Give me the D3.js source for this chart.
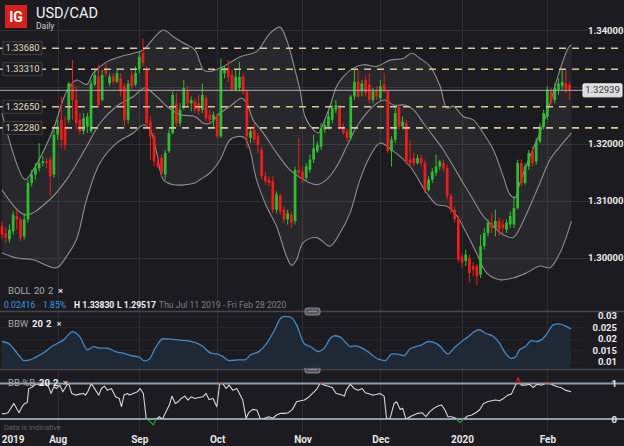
<!DOCTYPE html>
<html><head><meta charset="utf-8">
<script src="https://cdn.jsdelivr.net/npm/d3@7"></script>
<style>
html,body{margin:0;padding:0;background:#1c1c20;}
svg{display:block;font-family:Roboto,"Liberation Sans",Arial,sans-serif;}
</style></head><body>
<svg id="c" width="624" height="446"></svg>
<script>
// ---------- DATA ----------
const openP = [1.3055,1.3043,1.3032,1.3046,1.3073,1.3067,1.3037,1.3067,1.3131,1.3146,
1.3157,1.3166,1.3169,1.3172,1.3146,1.3216,1.3242,1.3230,1.3242,1.3304,
1.3277,1.3242,1.3222,1.3230,1.3222,1.3304,1.3318,1.3277,1.3333,1.3306,
1.3318,1.3309,1.3315,1.3301,1.3242,1.3321,1.3304,1.3330,1.3359,1.3330,
1.3239,1.3213,1.3169,1.3175,1.3146,1.3187,1.3219,1.3271,1.3236,1.3263,
1.3292,1.3271,1.3274,1.3271,1.3260,1.3280,1.3251,1.3242,1.3248,1.3213,
1.3324,1.3333,1.3321,1.3295,1.3298,1.3318,1.3292,1.3210,1.3225,1.3213,
1.3189,1.3143,1.3137,1.3134,1.3084,1.3108,1.3084,1.3067,1.3075,1.3064,
1.3154,1.3151,1.3140,1.3154,1.3172,1.3187,1.3195,1.3225,1.3230,1.3242,
1.3260,1.3263,1.3230,1.3222,1.3210,1.3283,1.3309,1.3292,1.3312,1.3304,
1.3277,1.3295,1.3280,1.3304,1.3292,1.3187,1.3207,1.3265,1.3230,1.3236,
1.3172,1.3175,1.3166,1.3175,1.3166,1.3119,1.3137,1.3149,1.3160,1.3166,
1.3157,1.3108,1.3084,1.3067,1.3002,1.2994,1.2999,1.2985,1.2985,1.2970,
1.3020,1.3043,1.3061,1.3052,1.3064,1.3058,1.3049,1.3058,1.3058,1.3087,
1.3166,1.3131,1.3160,1.3187,1.3169,1.3204,1.3230,1.3248,1.3292,1.3277,
1.3295,1.3301,1.3306,1.3304];
const closeP = [1.3040,1.3035,1.3049,1.3075,1.3067,1.3035,1.3067,1.3131,1.3146,1.3157,
1.3166,1.3169,1.3166,1.3143,1.3216,1.3230,1.3207,1.3198,1.3306,1.3277,
1.3236,1.3222,1.3245,1.3248,1.3306,1.3321,1.3268,1.3321,1.3324,1.3318,
1.3309,1.3324,1.3292,1.3242,1.3306,1.3301,1.3324,1.3353,1.3342,1.3236,
1.3213,1.3169,1.3160,1.3149,1.3184,1.3219,1.3286,1.3236,1.3260,1.3298,
1.3271,1.3277,1.3260,1.3257,1.3286,1.3245,1.3242,1.3251,1.3213,1.3330,
1.3333,1.3318,1.3295,1.3318,1.3318,1.3292,1.3213,1.3222,1.3207,1.3198,
1.3143,1.3134,1.3131,1.3084,1.3111,1.3081,1.3067,1.3078,1.3061,1.3154,
1.3149,1.3137,1.3160,1.3172,1.3192,1.3198,1.3227,1.3233,1.3248,1.3263,
1.3268,1.3230,1.3219,1.3210,1.3283,1.3309,1.3283,1.3306,1.3289,1.3277,
1.3292,1.3283,1.3301,1.3292,1.3187,1.3207,1.3254,1.3230,1.3239,1.3169,
1.3166,1.3166,1.3175,1.3166,1.3119,1.3137,1.3151,1.3160,1.3169,1.3157,
1.3108,1.3084,1.3067,1.2996,1.2991,1.3005,1.2973,1.2979,1.2967,1.3020,
1.3043,1.3061,1.3052,1.3064,1.3049,1.3052,1.3061,1.3073,1.3087,1.3166,
1.3131,1.3160,1.3184,1.3166,1.3204,1.3230,1.3254,1.3295,1.3274,1.3298,
1.3306,1.3309,1.3295,1.3294];
const highP = [1.3064,1.3052,1.3058,1.3081,1.3084,1.3070,1.3078,1.3137,1.3154,1.3166,
1.3201,1.3178,1.3175,1.3178,1.3225,1.3242,1.3283,1.3248,1.3309,1.3347,
1.3301,1.3254,1.3254,1.3254,1.3312,1.3330,1.3339,1.3330,1.3342,1.3324,
1.3324,1.3333,1.3324,1.3306,1.3312,1.3330,1.3336,1.3362,1.3385,1.3336,
1.3248,1.3219,1.3178,1.3181,1.3189,1.3225,1.3292,1.3289,1.3271,1.3312,
1.3301,1.3283,1.3280,1.3286,1.3306,1.3286,1.3260,1.3257,1.3254,1.3350,
1.3336,1.3347,1.3330,1.3330,1.3344,1.3324,1.3295,1.3230,1.3236,1.3219,
1.3195,1.3151,1.3143,1.3143,1.3116,1.3113,1.3090,1.3084,1.3081,1.3160,
1.3210,1.3160,1.3166,1.3181,1.3216,1.3204,1.3236,1.3242,1.3260,1.3268,
1.3277,1.3268,1.3236,1.3227,1.3286,1.3330,1.3330,1.3312,1.3318,1.3324,
1.3298,1.3301,1.3312,1.3324,1.3295,1.3213,1.3268,1.3268,1.3248,1.3242,
1.3207,1.3184,1.3181,1.3181,1.3172,1.3143,1.3157,1.3181,1.3172,1.3172,
1.3163,1.3113,1.3090,1.3073,1.3008,1.3014,1.3005,1.2991,1.2988,1.3040,
1.3052,1.3067,1.3078,1.3084,1.3070,1.3067,1.3067,1.3081,1.3108,1.3172,
1.3172,1.3166,1.3189,1.3195,1.3210,1.3236,1.3260,1.3301,1.3298,1.3306,
1.3315,1.3330,1.3330,1.3309];
const lowP = [1.3032,1.3026,1.3026,1.3040,1.3049,1.3029,1.3032,1.3061,1.3125,1.3137,
1.3151,1.3160,1.3157,1.3108,1.3140,1.3207,1.3192,1.3189,1.3236,1.3242,
1.3225,1.3216,1.3216,1.3219,1.3219,1.3301,1.3263,1.3274,1.3318,1.3301,
1.3304,1.3306,1.3283,1.3230,1.3236,1.3295,1.3301,1.3324,1.3336,1.3230,
1.3172,1.3160,1.3157,1.3143,1.3137,1.3184,1.3216,1.3230,1.3230,1.3260,
1.3265,1.3257,1.3254,1.3251,1.3254,1.3239,1.3236,1.3230,1.3210,1.3210,
1.3315,1.3309,1.3292,1.3292,1.3292,1.3286,1.3192,1.3201,1.3201,1.3184,
1.3137,1.3128,1.3125,1.3078,1.3078,1.3075,1.3061,1.3058,1.3052,1.3058,
1.3143,1.3131,1.3134,1.3149,1.3166,1.3184,1.3189,1.3219,1.3225,1.3236,
1.3254,1.3225,1.3216,1.3204,1.3207,1.3277,1.3280,1.3283,1.3283,1.3271,
1.3271,1.3277,1.3274,1.3289,1.3184,1.3160,1.3201,1.3225,1.3225,1.3163,
1.3160,1.3160,1.3163,1.3160,1.3113,1.3116,1.3131,1.3143,1.3154,1.3151,
1.3102,1.3078,1.3061,1.2991,1.2982,1.2985,1.2956,1.2967,1.2952,1.2964,
1.3014,1.3037,1.3043,1.3037,1.3037,1.3043,1.3043,1.3052,1.3052,1.3084,
1.3125,1.3128,1.3154,1.3160,1.3163,1.3201,1.3225,1.3242,1.3268,1.3271,
1.3286,1.3295,1.3289,1.3277];

// Bollinger bands (sampled along the candle index)
const upIdx = [0,6.2,8.4,13.8,17.4,20.1,22.8,24.6,28.2,31.8,35.4,38.1,40.8,43.5,46.2,48.9,52,54.3,56.1,59.7,64.2,68.6,72.2,74.9,76.7,78.5,80.3,81.7,83.9,85.3,86.6,88.4,90.2,92,94.7,97.4,101,104.6,108.2,110.4,112.7,115.4,118.1,119.9,121.7,124.3,127,129.7,132.4,135.1,136.9,138.3,139.6,142.3,145,147.7,150.4,152.6,153.5];
const upVal = [1.3254,1.3137,1.3154,1.3225,1.3292,1.3312,1.3304,1.3324,1.3344,1.3353,1.3359,1.3365,1.3385,1.3400,1.3388,1.3377,1.3365,1.3330,1.3327,1.3336,1.3353,1.3362,1.3394,1.3405,1.3383,1.3342,1.3295,1.3248,1.3225,1.3219,1.3236,1.3266,1.3301,1.3318,1.3333,1.3339,1.3336,1.3347,1.3350,1.3359,1.3350,1.3336,1.3301,1.3263,1.3266,1.3248,1.3242,1.3219,1.3190,1.3143,1.3111,1.3105,1.3131,1.3178,1.3219,1.3271,1.3330,1.3368,1.3374];
const midIdx = [0,6.2,12.9,17.4,22.8,26.4,30.9,35.4,38.5,41.7,44.4,48,52,54.3,56.1,58.8,61.5,64.6,66,67.7,70.4,74,77.6,81.2,84.8,87.5,90.2,92.9,95.6,98.3,101,103.2,105.5,108.6,110.9,113.6,116.3,118.9,121.7,124.3,127,129.7,132.4,135.1,137.8,139.6,142.3,145,147.7,150.4,153.5];
const midVal = [1.3119,1.3075,1.3102,1.3137,1.3195,1.3236,1.3266,1.3283,1.3298,1.3283,1.3266,1.3251,1.3248,1.3236,1.3236,1.3254,1.3266,1.3280,1.3271,1.3242,1.3219,1.3184,1.3154,1.3137,1.3128,1.3137,1.3160,1.3195,1.3230,1.3254,1.3271,1.3277,1.3268,1.3268,1.3260,1.3236,1.3213,1.3190,1.3160,1.3131,1.3102,1.3073,1.3055,1.3040,1.3035,1.3052,1.3090,1.3131,1.3172,1.3195,1.3219];
const loIdx = [0,4,8.4,14.7,17.4,20.1,22.8,26.4,30.9,35.4,38.1,39.9,41.7,43.5,46.2,52,53.4,56.1,58.8,61.5,64.2,65.5,66.8,68.6,71.3,74,76.7,78.1,79.4,81.2,84.8,88.4,91.1,93.8,96.5,99.2,101.9,105.5,110,114.5,117.2,119.9,122.6,125.2,127.9,130.6,134.2,137.8,141.4,145,147.7,150.4,153.5];
const loVal = [1.3008,1.2999,1.2996,1.2982,1.3002,1.3032,1.3102,1.3166,1.3201,1.3219,1.3233,1.3225,1.3184,1.3137,1.3128,1.3131,1.3137,1.3149,1.3172,1.3207,1.3213,1.3210,1.3190,1.3137,1.3090,1.3055,1.3002,1.2986,1.2996,1.3026,1.3035,1.3020,1.3043,1.3078,1.3137,1.3178,1.3201,1.3187,1.3160,1.3113,1.3093,1.3090,1.3073,1.3043,1.3008,1.2973,1.2961,1.2964,1.2973,1.2985,1.2982,1.3008,1.3064];

// Bollinger band width
const bbwIdx = [0,1.6,4.8,5.9,7.5,9.1,11.3,13.4,16.6,19.1,20.9,23.1,24.7,26.3,28.4,30.6,32.7,34.9,37.0,38.3,39.7,41.3,43.4,45.6,47.7,49.9,52,54.2,56.3,57.9,59.5,61.2,63.8,65.4,67,69.2,71.4,73.5,75.1,76.2,77.8,79.4,81.5,83.1,85.3,86.9,88.5,89.6,91.2,92.8,93.9,95.5,97.1,99.2,101.4,103.3,105.1,106.7,108.4,109.9,111.6,113.2,114.8,116.4,118,120.2,121.8,123.9,125.5,127.7,128.7,130.3,132.5,134.1,135.7,137.3,138.4,139.5,141.1,142.7,144.3,145.4,147,148.6,150.2,151.8,153.4];
const bbwVal = [0.0187,0.0180,0.0122,0.0104,0.0107,0.0119,0.0139,0.0165,0.0194,0.0230,
0.0209,0.0151,0.0165,0.0158,0.0158,0.0143,0.0136,0.0125,0.0119,0.0103,
0.0110,0.0158,0.0199,0.0197,0.0193,0.0191,0.0183,0.0165,0.0136,0.0133,
0.0122,0.0104,0.0107,0.0107,0.0129,0.0143,0.0180,0.0238,0.0288,0.0296,
0.0293,0.0259,0.0177,0.0165,0.0143,0.0158,0.0201,0.0212,0.0206,0.0180,
0.0165,0.0168,0.0158,0.0136,0.0110,0.0104,0.0133,0.0132,0.0126,0.0154,
0.0165,0.0172,0.0187,0.0183,0.0168,0.0133,0.0158,0.0187,0.0206,0.0233,
0.0238,0.0223,0.0209,0.0180,0.0136,0.0114,0.0119,0.0151,0.0165,0.0191,
0.0187,0.0194,0.0223,0.0259,0.0264,0.0255,0.0241];

// Bollinger %B
const pbIdx = [0,0.5,1.6,3.2,4.6,5.4,6.1,6.8,7.2,8.0,9.3,10.2,11.5,12.6,13.2,14.0,14.7,15.6,16.4,17.2,17.9,18.8,19.8,20.9,22.0,22.5,23.1,24.1,25.2,26.1,26.8,27.6,28.4,29.5,30.6,31.6,32.2,32.9,33.8,34.3,35.4,36.5,37.2,38.1,38.9,39.7,40.8,41.5,42.4,43.2,44.0,45.1,45.8,46.7,47.5,48.3,49.3,50.1,51.0,52.0,53.1,54.2,55.0,55.8,56.9,57.9,58.7,59.5,60.4,61.2,62.2,63.3,64.0,64.9,65.8,66.5,67.6,68.7,69.7,70.8,71.9,73.0,74.0,75.1,76.2,77.2,78.3,79.4,80.5,81.5,82.6,83.7,84.8,85.8,86.9,88.0,89.0,90.1,91.2,92.3,92.8,93.9,94.9,96.0,97.1,97.9,98.7,99.8,100.8,101.9,103.0,103.7,104.6,105.7,106.4,107.3,108.0,108.9,110.0,111.0,112.1,113.2,114.3,115.3,116.4,117.5,118.5,119.4,120.2,121.2,122.3,123.4,124.4,125.5,126.6,127.7,128.7,129.8,130.9,131.9,133.0,134.1,135.2,136.3,137.3,138.4,139.1,140.0,141.1,142.1,143.2,144.3,145.4,146.4,147.5,148.6,149.7,150.7,151.8,153.4];
const pbVal = [0.159,0.140,0.178,0.439,0.178,0.346,0.439,0.458,0.860,0.888,
1.000,0.953,1.000,0.907,0.720,0.907,0.860,0.953,0.766,0.907,
1.019,0.720,0.673,0.701,0.720,0.673,0.766,1.000,0.813,0.673,
0.860,0.925,0.813,0.860,0.626,0.579,0.346,0.673,0.720,0.673,
0.720,0.766,0.860,0.720,-0.009,-0.047,-0.168,-0.009,0.065,-0.009,
0.159,0.393,0.645,0.439,0.486,0.579,0.645,0.533,0.626,0.579,
0.607,0.626,0.720,0.551,0.579,0.346,1.019,1.000,0.860,0.953,
0.813,0.860,0.720,0.533,0.019,0.178,0.271,0.252,-0.009,0.019,
0.065,0.019,0.112,0.159,0.159,0.178,0.271,0.486,0.514,0.533,
0.607,0.720,0.832,1.019,0.953,0.925,0.888,0.720,0.692,0.645,
0.813,0.981,0.860,0.813,0.860,0.738,0.720,0.673,0.692,0.720,
0.645,-0.009,0.019,0.439,0.486,0.271,0.299,-0.009,0.065,0.112,
0.159,0.178,0.065,0.206,0.299,0.364,0.393,0.252,0.065,0.065,
0.019,-0.103,-0.009,0.084,0.112,0.178,0.252,0.439,0.486,0.514,
0.533,0.514,0.579,0.673,0.701,0.953,1.168,0.953,0.953,0.981,
0.888,0.981,0.953,1.000,1.019,0.953,0.907,0.888,0.813,0.766];

const levelVals = [1.3368, 1.3331, 1.3265, 1.3228];
const lastPrice = 1.32939;
const priceTicks = [1.30, 1.31, 1.32, 1.34];
const priceGrid = [1.30, 1.31, 1.32, 1.33, 1.34];
const bbwTicks = [0.01, 0.015, 0.02, 0.025, 0.03];
const pbTicks = [0, 1];
const xTickIdx = [15, 37, 58, 81, 102, 124, 147];
const xTickLbl = ["Aug", "Sep", "Oct", "Nov", "Dec", "2020", "Feb"];
const yearIdx = 3, yearLbl = "2019";

// ---------- DRAW ----------
const W = 624, H = 446;
const GREEN = "#2fbd32", RED = "#f01c1c";
const svg = d3.select("#c");
svg.append("rect").attr("width", W).attr("height", H).attr("fill", "#1c1c20");

const n = closeP.length;
const x = d3.scaleLinear().domain([0, n - 1]).range([2, 569.6]);
const y = d3.scaleLinear().domain([1.30, 1.34]).range([257.5, 30]);
const yW = d3.scaleLinear().domain([0.01, 0.03]).range([361.5, 315.5]);
const yB = d3.scaleLinear().domain([0, 1]).range([419, 383.5]);

const defs = svg.append("defs");
defs.append("clipPath").attr("id", "clipMain").append("rect").attr("x", 0).attr("y", 0).attr("width", 583).attr("height", 310);
defs.append("clipPath").attr("id", "clipW").append("rect").attr("x", 0).attr("y", 313).attr("width", 583).attr("height", 55);
defs.append("clipPath").attr("id", "pbMid").append("rect").attr("x", 0).attr("y", yB(1)).attr("width", 583).attr("height", yB(0) - yB(1));
defs.append("clipPath").attr("id", "pbHi").append("rect").attr("x", 0).attr("y", 370).attr("width", 583).attr("height", yB(1) - 370);
defs.append("clipPath").attr("id", "pbLo").append("rect").attr("x", 0).attr("y", yB(0)).attr("width", 583).attr("height", 432 - yB(0));

// vertical grid
const grid = svg.append("g").attr("stroke", "#2e2e33").attr("stroke-width", 1).attr("shape-rendering", "crispEdges");
grid.selectAll("line.v").data(xTickIdx).join("line")
  .attr("x1", d => Math.round(x(d)) + 0.5).attr("x2", d => Math.round(x(d)) + 0.5)
  .attr("y1", 0).attr("y2", 432);
// horizontal price grid
grid.selectAll("line.h").data(priceGrid).join("line")
  .attr("x1", 0).attr("x2", W).attr("y1", d => Math.round(y(d)) + 0.5).attr("y2", d => Math.round(y(d)) + 0.5);
// bbw grid
grid.selectAll("line.w").data(bbwTicks).join("line")
  .attr("x1", 0).attr("x2", 583).attr("y1", d => Math.round(yW(d)) + 0.5).attr("y2", d => Math.round(yW(d)) + 0.5)
  .attr("stroke", "#242428");

// ---------- main panel ----------
const main = svg.append("g").attr("clip-path", "url(#clipMain)");
const up = upIdx.map((d, k) => [d, upVal[k]]);
const mid = midIdx.map((d, k) => [d, midVal[k]]);
const lo = loIdx.map((d, k) => [d, loVal[k]]);
const bandLine = d3.line().x(d => x(d[0])).y(d => y(d[1])).curve(d3.curveCatmullRom.alpha(0.5));
const fillPath = bandLine(up) + bandLine(lo.slice().reverse()).replace(/^M/, "L") + "Z";
main.append("path").attr("d", fillPath).attr("fill", "rgba(255,255,255,0.055)");
[up, mid, lo].forEach(pts => {
  main.append("path").attr("d", bandLine(pts)).attr("fill", "none")
    .attr("stroke", "#8d8d90").attr("stroke-width", 1.1);
});

// candles
const idx = d3.range(n);
const isUp = i => closeP[i] >= openP[i];
main.append("g").selectAll("line").data(idx).join("line")
  .attr("x1", i => x(i)).attr("x2", i => x(i))
  .attr("y1", i => y(highP[i])).attr("y2", i => y(lowP[i]))
  .attr("stroke", i => isUp(i) ? GREEN : RED).attr("stroke-width", 1);
main.append("g").selectAll("rect").data(idx).join("rect")
  .attr("x", i => x(i) - 1.35).attr("width", 2.7)
  .attr("y", i => y(Math.max(openP[i], closeP[i])))
  .attr("height", i => Math.max(1, Math.abs(y(openP[i]) - y(closeP[i]))))
  .attr("fill", i => isUp(i) ? GREEN : RED);

// dashed levels
svg.append("g").selectAll("line").data(levelVals).join("line")
  .attr("x1", 0).attr("x2", W).attr("y1", d => y(d)).attr("y2", d => y(d))
  .attr("stroke", "#d8c59c").attr("stroke-width", 1.6).attr("stroke-dasharray", "7,6");
const lvl = svg.append("g").selectAll("g").data(levelVals).join("g")
  .attr("transform", d => `translate(3,${y(d) - 6.5})`);
lvl.append("rect").attr("width", 39).attr("height", 13).attr("fill", "#1e1e22").attr("stroke", "#48484c").attr("stroke-width", 0.8);
lvl.append("text").attr("x", 19.5).attr("y", 9.6).attr("text-anchor", "middle")
  .attr("fill", "#e4dbc2").style("font-size", "9.3px").text(d => d3.format(".5f")(d));

// current price line
svg.append("line").attr("x1", 0).attr("x2", 583).attr("y1", y(lastPrice)).attr("y2", y(lastPrice))
  .attr("stroke", "#a9a9ad").attr("stroke-width", 1);

// price axis
const yAxis = d3.axisRight(y).tickValues(priceTicks).tickFormat(d3.format(".5f")).tickSize(0).tickPadding(0);
const ya = svg.append("g").attr("transform", "translate(588,0)").call(yAxis);
ya.select(".domain").remove();
ya.selectAll("text").attr("fill", "#e8e8e8").style("font-size", "9.5px").style("font-weight", "bold")
  .style("font-family", "Roboto, 'Liberation Sans', Arial, sans-serif");
const lp = svg.append("g").attr("transform", `translate(583,${y(lastPrice) - 6.5})`);
lp.append("rect").attr("width", 39).attr("height", 13).attr("rx", 1).attr("fill", "#dcdcdc").attr("stroke", "#f2f2f2");
lp.append("text").attr("x", 19.5).attr("y", 9.6).attr("text-anchor", "middle").attr("fill", "#3a3a3a")
  .style("font-size", "9.5px").text(d3.format(".5f")(lastPrice));

// title + logo
svg.append("rect").attr("x", 5).attr("y", 5).attr("width", 22).attr("height", 23).attr("fill", "#d8201c");
svg.append("text").attr("x", 16).attr("y", 21.5).attr("text-anchor", "middle").attr("fill", "#fff")
  .style("font-size", "14px").style("font-weight", "bold").text("IG");
svg.append("text").attr("x", 36).attr("y", 18).attr("fill", "#f2f2f2").style("font-size", "14.5px").text("USD/CAD");
svg.append("text").attr("x", 36).attr("y", 29).attr("fill", "#cfcfcf").style("font-size", "8.5px").text("Daily");

// BOLL legend
const boll = svg.append("text").attr("x", 8).attr("y", 293.5).style("font-size", "9.5px");
boll.append("tspan").attr("fill", "#a9a9a9").text("BOLL");
boll.append("tspan").attr("x", 34).attr("fill", "#a9a9a9").text("20");
boll.append("tspan").attr("x", 48).attr("fill", "#a9a9a9").text("2");
boll.append("tspan").attr("x", 58).attr("fill", "#dddddd").style("font-weight", "bold").text("\u00d7");
const st = svg.append("text").attr("y", 307.5).style("font-size", "8.6px");
st.append("tspan").attr("x", 4).attr("fill", "#3d93e0").text("0.02416");
st.append("tspan").attr("x", 43).attr("fill", "#3d93e0").text("1.85%");
st.append("tspan").attr("x", 74).attr("fill", "#f0f0f0").style("font-weight", "bold").text("H 1.33830");
st.append("tspan").attr("x", 117).attr("fill", "#f0f0f0").style("font-weight", "bold").text("L 1.29517");
st.append("tspan").attr("x", 159).attr("fill", "#7d7d80").text("Thu Jul 11 2019 - Fri Feb 28 2020");

// separators
[311.5, 369.5].forEach(sy => {
  svg.append("line").attr("x1", 0).attr("x2", W).attr("y1", sy).attr("y2", sy).attr("stroke", "#45454a").attr("stroke-width", 1.5);
  svg.append("rect").attr("x", 305).attr("y", sy - 3.5).attr("width", 15).attr("height", 7).attr("rx", 2)
    .attr("fill", "#5a5a60").attr("stroke", "#9a9a9e").attr("stroke-width", 0.8);
  svg.append("line").attr("x1", 308).attr("x2", 317).attr("y1", sy).attr("y2", sy).attr("stroke", "#8a8a8e").attr("stroke-width", 1);
});

// ---------- BBW panel ----------
const bbw = bbwIdx.map((d, k) => [d, bbwVal[k]]);
const wG = svg.append("g").attr("clip-path", "url(#clipW)");
wG.append("path").attr("d", d3.area().x(d => x(d[0])).y0(368).y1(d => yW(d[1])).curve(d3.curveMonotoneX)(bbw))
  .attr("fill", "#1f2a37").attr("opacity", 0.95);
wG.append("path").attr("d", d3.line().x(d => x(d[0])).y(d => yW(d[1])).curve(d3.curveMonotoneX)(bbw))
  .attr("fill", "none").attr("stroke", "#4288c8").attr("stroke-width", 1.3);
const wAxis = d3.axisRight(yW).tickValues(bbwTicks).tickFormat(d => String(+d.toFixed(3))).tickSize(0).tickPadding(0);
const wa = svg.append("g").attr("transform", "translate(617,0)").call(wAxis);
wa.select(".domain").remove();
wa.selectAll("text").attr("text-anchor", "end").attr("fill", "#e8e8e8").style("font-size", "9.5px").style("font-weight", "bold")
  .style("font-family", "Roboto, 'Liberation Sans', Arial, sans-serif");
const bl = svg.append("text").attr("x", 8).attr("y", 326.5).style("font-size", "9.5px");
bl.append("tspan").attr("fill", "#a9a9a9").text("BBW");
bl.append("tspan").attr("x", 32).attr("fill", "#eeeeee").style("font-weight", "bold").text("20");
bl.append("tspan").attr("x", 46).attr("fill", "#eeeeee").style("font-weight", "bold").text("2");
bl.append("tspan").attr("x", 56.5).attr("fill", "#cccccc").style("font-weight", "bold").text("\u00d7");

// ---------- %B panel ----------
svg.append("g").selectAll("line").data(pbTicks).join("line")
  .attr("x1", 0).attr("x2", W).attr("y1", d => yB(d)).attr("y2", d => yB(d))
  .attr("stroke", "#8c9db0").attr("stroke-width", 2);
const pb = pbIdx.map((d, k) => [d, pbVal[k]]);
const pbLine = d3.line().x(d => x(d[0])).y(d => yB(d[1]));
[["pbMid", "#d6d6d6"], ["pbHi", "#e01818"], ["pbLo", "#22a83a"]].forEach(([cp, col]) => {
  svg.append("path").attr("clip-path", `url(#${cp})`).attr("d", pbLine(pb))
    .attr("fill", "none").attr("stroke", col).attr("stroke-width", 1.1).attr("stroke-linejoin", "round");
});
const bAxis = d3.axisRight(yB).tickValues(pbTicks).tickFormat(d3.format("d")).tickSize(0).tickPadding(0);
const ba = svg.append("g").attr("transform", "translate(617,0)").call(bAxis);
ba.select(".domain").remove();
ba.selectAll("text").attr("text-anchor", "end").attr("fill", "#e8e8e8").style("font-size", "9.5px").style("font-weight", "bold")
  .style("font-family", "Roboto, 'Liberation Sans', Arial, sans-serif");
const pl = svg.append("text").attr("x", 8).attr("y", 385.5).style("font-size", "9.5px");
pl.append("tspan").attr("fill", "#a9a9a9").text("BB %B");
pl.append("tspan").attr("x", 39).attr("fill", "#eeeeee").style("font-weight", "bold").text("20");
pl.append("tspan").attr("x", 53).attr("fill", "#eeeeee").style("font-weight", "bold").text("2");
pl.append("tspan").attr("x", 63).attr("fill", "#cccccc").style("font-weight", "bold").text("\u00d7");
svg.append("text").attr("x", 4).attr("y", 430).attr("fill", "#5f5f63").style("font-size", "7.5px").text("Data is indicative");

// ---------- x axis ----------
const xAxis = d3.axisBottom(x).tickValues(xTickIdx).tickFormat((d, k) => xTickLbl[k]).tickSize(0).tickPadding(0);
const xa = svg.append("g").attr("transform", "translate(0,435.5)").call(xAxis);
xa.select(".domain").remove();
xa.selectAll("text").attr("fill", "#e6e6e6").style("font-size", "10px").style("font-weight", "bold")
  .style("font-family", "Roboto, 'Liberation Sans', Arial, sans-serif");
svg.append("text").attr("x", x(yearIdx)).attr("y", 443).attr("text-anchor", "middle").attr("fill", "#e6e6e6")
  .style("font-size", "10px").style("font-weight", "bold").text(yearLbl);
</script>
</body></html>
